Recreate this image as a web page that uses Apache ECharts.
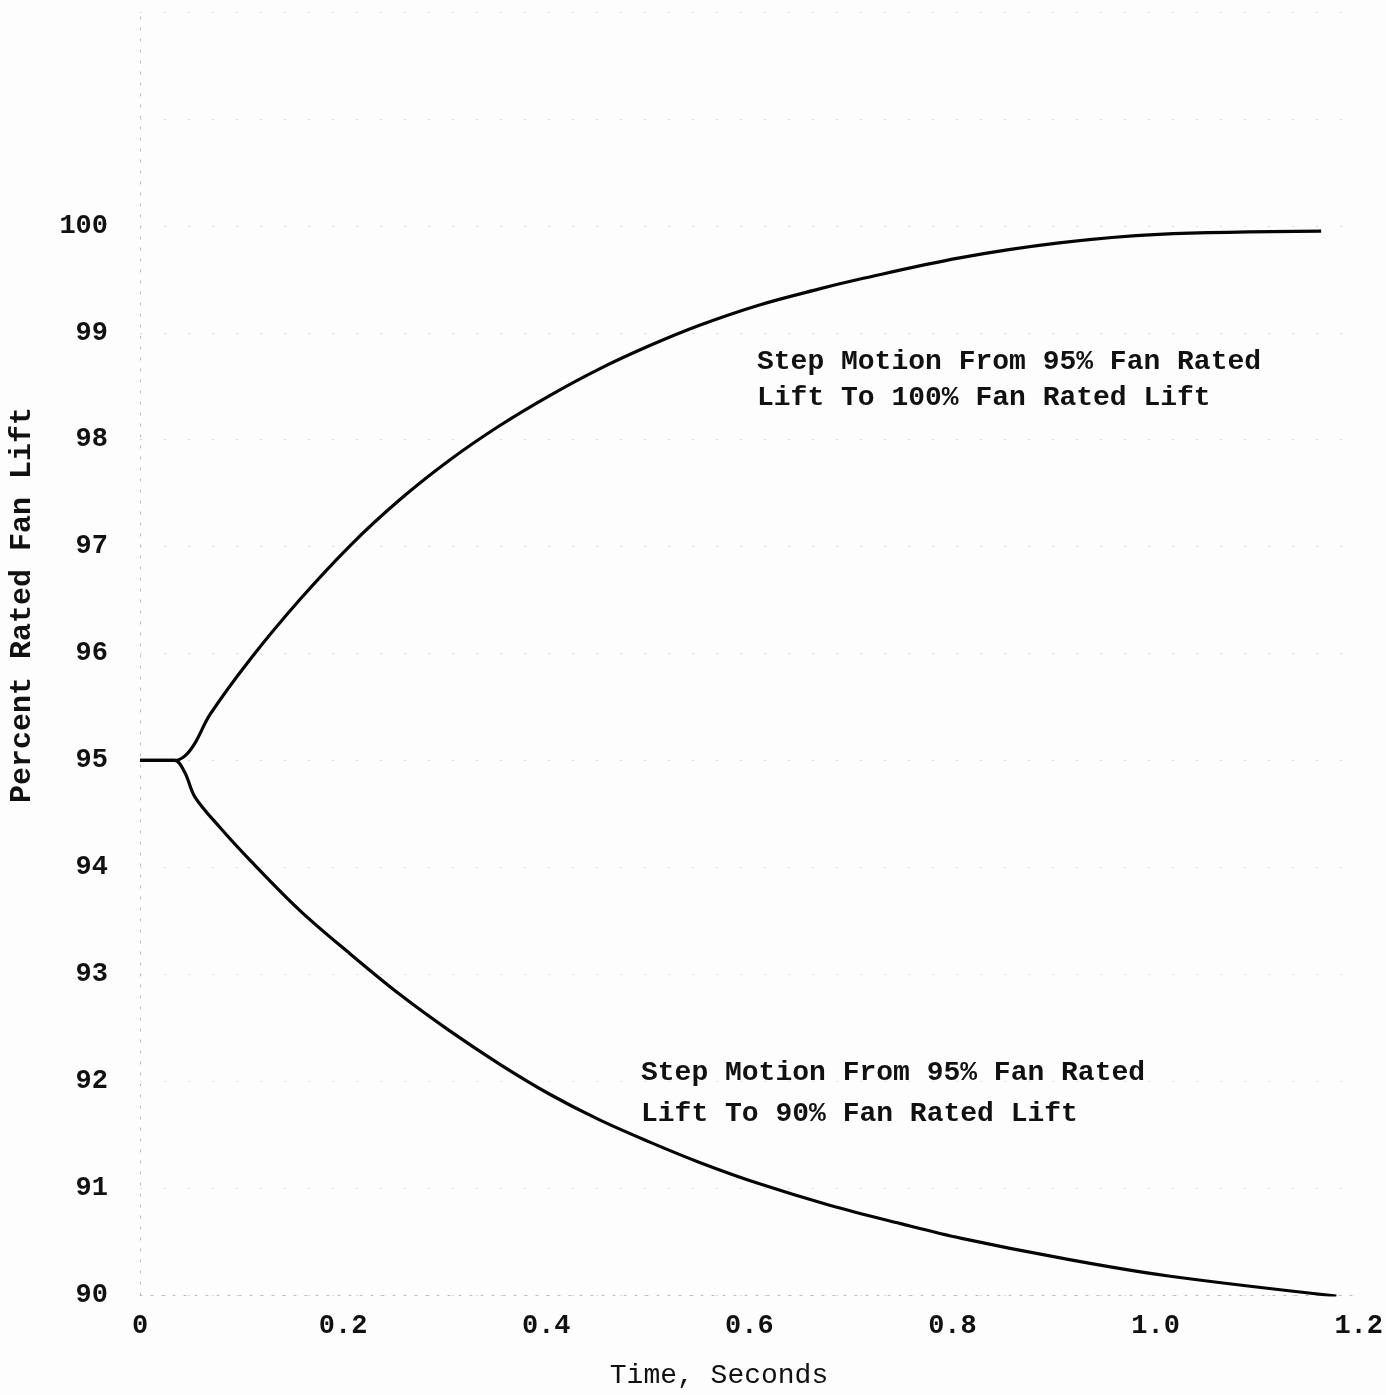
<!DOCTYPE html>
<html>
<head>
<meta charset="utf-8">
<script src="https://cdn.jsdelivr.net/npm/echarts@6/dist/echarts.min.js"></script>
<style>
html,body{margin:0;padding:0;background:#fdfdfd;}
#chart{width:1386px;height:1395px;}
</style>
</head>
<body>
<div id="chart"></div>
<script>
// Time (s) and lift (%)
const timeUp = [0, 0.034, 0.044, 0.054, 0.069, 0.108, 0.157, 0.207, 0.256, 0.305, 0.354, 0.403, 0.452, 0.502, 0.551, 0.610, 0.669, 0.708, 0.807, 0.905, 1.003, 1.163];
const liftUp = [95.0, 95.0, 95.04, 95.16, 95.43, 95.94, 96.50, 97.01, 97.44, 97.81, 98.13, 98.41, 98.66, 98.88, 99.07, 99.26, 99.41, 99.50, 99.70, 99.84, 99.92, 99.95];
const timeDown = [0, 0.034, 0.044, 0.054, 0.079, 0.108, 0.157, 0.207, 0.256, 0.305, 0.354, 0.403, 0.452, 0.502, 0.551, 0.610, 0.679, 0.748, 0.809, 0.910, 1.011, 1.178];
const liftDown = [95.0, 95.0, 94.89, 94.66, 94.37, 94.07, 93.60, 93.19, 92.81, 92.47, 92.16, 91.88, 91.64, 91.43, 91.24, 91.04, 90.84, 90.67, 90.53, 90.34, 90.18, 89.99];
const xTickLabels = {0: '0', 0.2: '0.2', 0.4: '0.4', 0.6: '0.6', 0.8: '0.8', 1: '1.0', 1.2: '1.2'};
const yAxisName = 'Percent Rated Fan Lift';
const xAxisName = 'Time, Seconds';
const noteUp = ['Step Motion From 95% Fan Rated', 'Lift To 100% Fan Rated Lift'];
const noteDown = ['Step Motion From 95% Fan Rated', 'Lift To 90% Fan Rated Lift'];

const FONT = '"Liberation Mono", "Courier New", monospace';
const chart = echarts.init(document.getElementById('chart'), null, {renderer: 'canvas'});
const pairs = (xs, ys) => xs.map((x, i) => [x, ys[i]]);

chart.setOption({
  backgroundColor: '#fdfdfd',
  animation: false,
  grid: {left: 140, right: 26, top: 12, bottom: 100, containLabel: false},
  xAxis: {
    type: 'value', min: 0, max: 1.2, interval: 0.2,
    axisLine: {show: true, lineStyle: {color: '#bbb', type: [2, 9], width: 1}},
    axisTick: {show: false},
    splitLine: {show: false},
    axisLabel: {
      margin: 18, color: '#111', fontFamily: FONT, fontSize: 27, fontWeight: 'bold',
      formatter: v => xTickLabels[Math.round(v * 10) / 10] ?? ''
    }
  },
  yAxis: {
    type: 'value', min: 90, max: 102, interval: 1,
    axisLine: {show: true, lineStyle: {color: '#bbb', type: [2, 9], width: 1}},
    axisTick: {show: false},
    splitLine: {show: true, lineStyle: {color: '#dadada', type: [2, 22], width: 1}},
    axisLabel: {
      margin: 32, color: '#111', fontFamily: FONT, fontSize: 27, fontWeight: 'bold',
      formatter: v => (v <= 100 ? String(v) : '')
    }
  },
  series: [
    {
      type: 'line', data: pairs(timeUp, liftUp), smooth: 0.35, symbol: 'none',
      lineStyle: {color: '#050505', width: 3.2}
    },
    {
      type: 'line', data: pairs(timeDown, liftDown), smooth: 0.35, symbol: 'none',
      lineStyle: {color: '#050505', width: 3.2}
    }
  ],
  graphic: [
    {type: 'text', x: 22, y: 605, rotation: Math.PI / 2,
     style: {text: yAxisName, font: 'bold 30px ' + FONT, fill: '#111', textAlign: 'center', textVerticalAlign: 'middle'}},
    {type: 'text', x: 719, y: 1376,
     style: {text: xAxisName, font: '28px ' + FONT, fill: '#111', textAlign: 'center', textVerticalAlign: 'middle'}},
    {type: 'text', x: 757, y: 362,
     style: {text: noteUp[0], font: 'bold 28px ' + FONT, fill: '#111', textVerticalAlign: 'middle'}},
    {type: 'text', x: 757, y: 398,
     style: {text: noteUp[1], font: 'bold 28px ' + FONT, fill: '#111', textVerticalAlign: 'middle'}},
    {type: 'text', x: 641, y: 1073,
     style: {text: noteDown[0], font: 'bold 28px ' + FONT, fill: '#111', textVerticalAlign: 'middle'}},
    {type: 'text', x: 641, y: 1114,
     style: {text: noteDown[1], font: 'bold 28px ' + FONT, fill: '#111', textVerticalAlign: 'middle'}}
  ]
});
</script>
</body>
</html>
